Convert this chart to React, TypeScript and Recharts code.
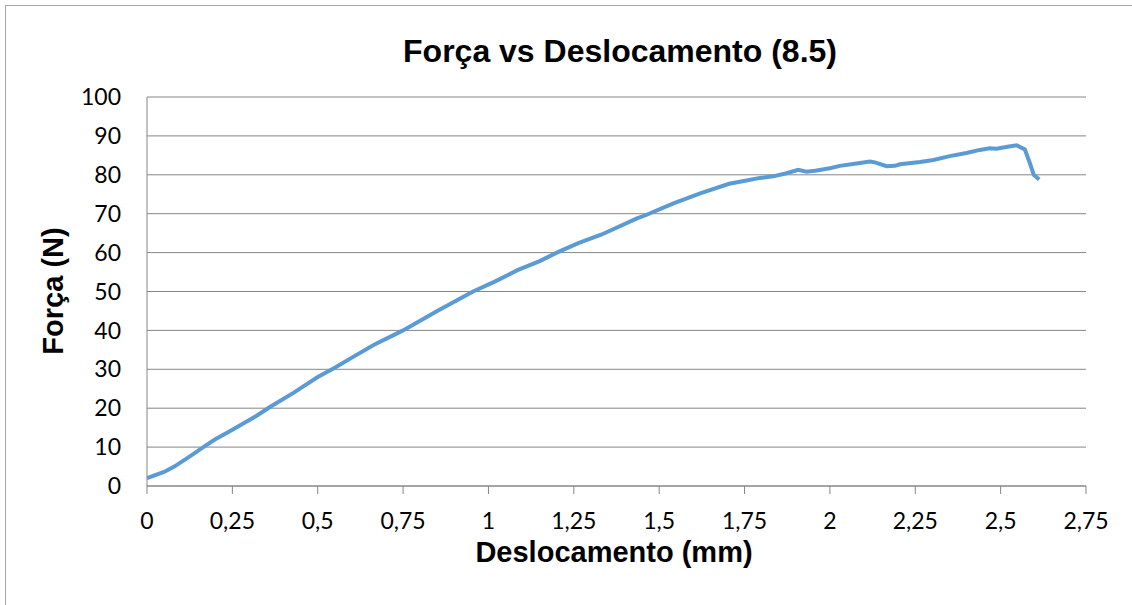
import React from "react";
import { LineChart, Line, XAxis, YAxis, CartesianGrid } from "recharts";

const deslocamento = [
  0, 0.05, 0.08, 0.12, 0.165, 0.2, 0.245, 0.32, 0.36, 0.43, 0.5, 0.55, 0.6, 0.665, 0.75,
  0.85, 0.955, 1.02, 1.085, 1.15, 1.2, 1.265, 1.33, 1.435, 1.46, 1.54, 1.62, 1.705, 1.76,
  1.795, 1.834, 1.873, 1.907, 1.932, 1.961, 2.0, 2.029, 2.078, 2.117, 2.132, 2.166, 2.19,
  2.205, 2.264, 2.303, 2.351, 2.4, 2.439, 2.468, 2.488, 2.52, 2.547, 2.571, 2.586, 2.597, 2.613,
];
const forca = [
  2.0, 3.6, 5.0, 7.3, 10.0, 12.0, 14.2, 18.0, 20.3, 24.0, 28.0, 30.4, 33.0, 36.3, 40.0,
  45.0, 50.0, 52.6, 55.5, 57.8, 60.0, 62.5, 64.6, 68.8, 69.6, 72.6, 75.2, 77.7, 78.6,
  79.2, 79.6, 80.4, 81.3, 80.8, 81.1, 81.7, 82.3, 82.9, 83.4, 83.2, 82.2, 82.3,
  82.7, 83.3, 83.8, 84.8, 85.6, 86.4, 86.8, 86.7, 87.2, 87.6, 86.5, 82.9, 80.0, 78.8,
];
const xTicks = [0, 0.25, 0.5, 0.75, 1, 1.25, 1.5, 1.75, 2, 2.25, 2.5, 2.75];
const yTicks = [0, 10, 20, 30, 40, 50, 60, 70, 80, 90, 100];
const chartTitle = "Força vs Deslocamento (8.5)";
const xTitle = "Deslocamento (mm)";
const yTitle = "Força (N)";

const data = deslocamento.map((x, i) => ({ x, y: forca[i] }));

const fmt = (v: number) => String(v).replace(".", ",");

export default function App() {
  const gray = "#868686";
  const tickStyle = { fontFamily: "Lato", fontSize: 23, fill: "#000" };
  const titleFont = "'Liberation Sans', Arial, sans-serif";
  return (
    <div style={{ position: "absolute", left: 0, top: 0, width: 1132, height: 605, overflow: "hidden", background: "#fff" }}>
      <div style={{ position: "absolute", left: 5, top: 5, width: 1200, height: 700, border: "1px solid #a6a6a6" }} />
      <div style={{ position: "absolute", left: 0, top: 0 }}>
        <LineChart width={1132} height={605} data={data} margin={{ top: 97, right: 46, bottom: 59, left: 87 }}>
          <CartesianGrid horizontal={true} vertical={false} stroke={gray} strokeWidth={1} />
          <XAxis
            dataKey="x"
            type="number"
            domain={[0, 2.75]}
            ticks={xTicks}
            tickFormatter={fmt}
            interval={0}
            height={60}
            stroke={gray}
            tickSize={8}
            tickMargin={19}
            tick={tickStyle}
            allowDataOverflow
          />
          <YAxis
            type="number"
            domain={[0, 100]}
            ticks={yTicks}
            interval={0}
            width={60}
            stroke={gray}
            tickLine={false}
            tickSize={0}
            tickMargin={26}
            tick={tickStyle}
          />
          <Line
            type="linear"
            dataKey="y"
            stroke="#5b9bd5"
            strokeWidth={4}
            dot={false}
            isAnimationActive={false}
          />
        </LineChart>
      </div>
      <svg width={1132} height={605} style={{ position: "absolute", left: 0, top: 0, pointerEvents: "none" }}>
        <text x={620} y={62} textAnchor="middle" fontFamily={titleFont} fontWeight="bold" fontSize={32}>
          {chartTitle}
        </text>
        <text x={614} y={562} textAnchor="middle" fontFamily={titleFont} fontWeight="bold" fontSize={29}>
          {xTitle}
        </text>
        <text
          x={0}
          y={0}
          transform="translate(63,291) rotate(-90)"
          textAnchor="middle"
          fontFamily={titleFont}
          fontWeight="bold"
          fontSize={29}
        >
          {yTitle}
        </text>
      </svg>
    </div>
  );
}
